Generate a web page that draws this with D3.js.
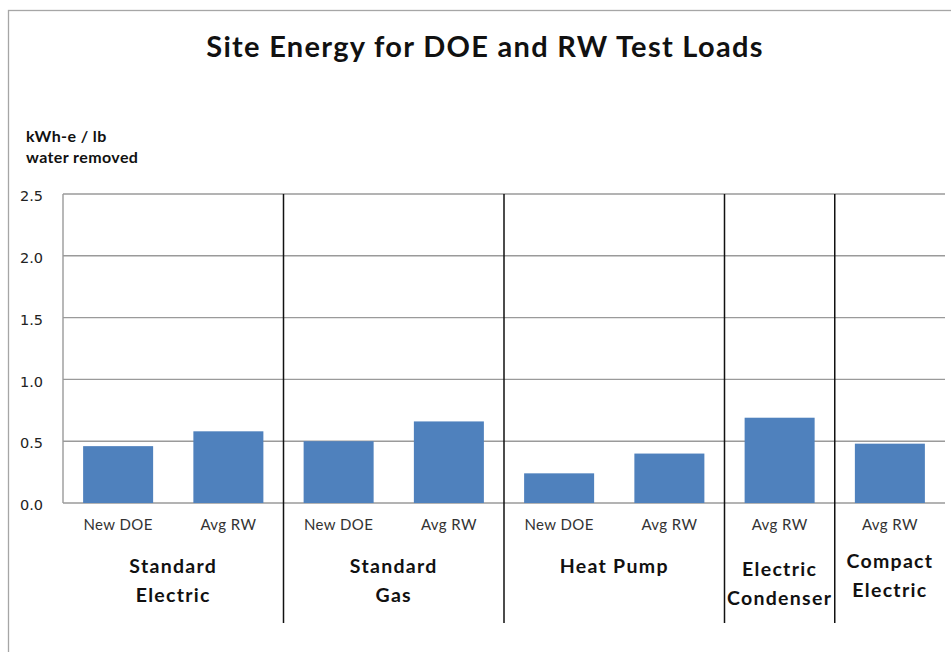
<!DOCTYPE html>
<html>
<head>
<meta charset="utf-8">
<script src="https://cdn.jsdelivr.net/npm/d3@7"></script>
<style>
  body { margin: 0; background: #fff; }
  svg { display: block; }
</style>
</head>
<body>
<svg id="chart" width="951" height="652"></svg>
<script>
// data
const groups = ["Standard Electric", "Standard Gas", "Heat Pump", "Electric Condenser", "Compact Electric"];
const groupLines = [["Standard", "Electric"], ["Standard", "Gas"], ["Heat Pump"], ["Electric", "Condenser"], ["Compact", "Electric"]];
const barGroup = [0, 0, 1, 1, 2, 2, 3, 4];
const barLabels = ["New DOE", "Avg RW", "New DOE", "Avg RW", "New DOE", "Avg RW", "Avg RW", "Avg RW"];
const values = [0.46, 0.58, 0.50, 0.66, 0.24, 0.40, 0.69, 0.48];
const yTicks = [0, 0.5, 1.0, 1.5, 2.0, 2.5];

const svg = d3.select("#chart");
const margin = { left: 63, right: 6, top: 194, bottom: 149 };
const width = 951, height = 652;

const x = d3.scaleBand()
    .domain(d3.range(values.length))
    .range([margin.left, width - margin.right])
    .paddingInner(0.365)
    .paddingOuter(0.1825);

const y = d3.scaleLinear()
    .domain([0, 2.5])
    .range([height - margin.bottom, margin.top]);

// outer frame
svg.append("rect")
    .attr("x", 8.5).attr("y", 10.5)
    .attr("width", 960).attr("height", 660)
    .attr("fill", "none").attr("stroke", "#a6a6a6").attr("stroke-width", 1.3);

// title
svg.append("text")
    .attr("x", 485).attr("y", 57)
    .attr("text-anchor", "middle")
    .style("font-family", "Lato, 'Open Sans', sans-serif")
    .style("font-weight", "bold")
    .style("font-size", "29px")
    .style("letter-spacing", "1.3px")
    .attr("fill", "#111")
    .text("Site Energy for DOE and RW Test Loads");

// y axis title
const yt = svg.append("text")
    .style("font-family", "Lato, 'Open Sans', sans-serif")
    .style("font-weight", "bold")
    .style("font-size", "16px")
    .style("letter-spacing", "0.4px")
    .attr("fill", "#111");
yt.append("tspan").attr("x", 26).attr("y", 142).text("kWh-e / lb");
yt.append("tspan").attr("x", 26).attr("y", 163).text("water removed");

// gridlines
svg.append("g")
  .selectAll("line")
  .data(yTicks)
  .join("line")
    .attr("x1", margin.left).attr("x2", width - margin.right)
    .attr("y1", d => y(d)).attr("y2", d => y(d))
    .attr("stroke", "#9a9a9a").attr("stroke-width", 1.4);

svg.append("line")
    .attr("x1", margin.left).attr("x2", margin.left)
    .attr("y1", y(2.5)).attr("y2", y(0))
    .attr("stroke", "#9a9a9a").attr("stroke-width", 1.4);

// y tick labels
const yAxis = d3.axisLeft(y)
    .tickValues(yTicks)
    .tickFormat(d3.format(".1f"))
    .tickSize(0)
    .tickPadding(20);

svg.append("g")
    .attr("transform", `translate(${margin.left},2)`)
    .call(yAxis)
    .call(g => g.select(".domain").remove())
    .call(g => g.selectAll("text")
        .style("font-family", "'DejaVu Sans', Verdana, sans-serif")
        .style("font-size", "14.5px")
        .attr("fill", "#222"));

// bars
svg.append("g")
  .selectAll("rect")
  .data(values)
  .join("rect")
    .attr("x", (d, i) => x(i))
    .attr("y", d => y(d))
    .attr("width", x.bandwidth())
    .attr("height", d => y(0) - y(d))
    .attr("fill", "#4f81bd");

// bar labels
svg.append("g")
  .selectAll("text")
  .data(barLabels)
  .join("text")
    .attr("x", (d, i) => x(i) + x.bandwidth() / 2)
    .attr("y", 530)
    .attr("text-anchor", "middle")
    .style("font-family", "Lato, 'Open Sans', sans-serif")
    .style("font-size", "15px")
    .style("letter-spacing", "0.4px")
    .attr("fill", "#333")
    .text(d => d);

// group separators
const step = x.step();
const groupStart = groups.map((g, gi) => barGroup.indexOf(gi));
const groupEnd = groups.map((g, gi) => barGroup.lastIndexOf(gi) + 1);
const edge = i => margin.left + x.paddingOuter() * step - x.paddingInner() * step / 2 + i * step;

svg.append("g")
  .selectAll("line")
  .data(groupStart.slice(1))
  .join("line")
    .attr("x1", d => edge(d)).attr("x2", d => edge(d))
    .attr("y1", y(2.5)).attr("y2", 623)
    .attr("stroke", "#111").attr("stroke-width", 1.5);

// group labels
const groupY = [573, 573, 573, 576, 568];
const gl = svg.append("g")
  .selectAll("text")
  .data(groupLines)
  .join("text")
    .attr("text-anchor", "middle")
    .style("font-family", "Lato, 'Open Sans', sans-serif")
    .style("font-weight", "bold")
    .style("font-size", "19.5px")
    .style("letter-spacing", "1.3px")
    .attr("fill", "#111");

gl.each(function(lines, gi) {
  const cx = (edge(groupStart[gi]) + edge(groupEnd[gi])) / 2;
  d3.select(this).selectAll("tspan")
    .data(lines)
    .join("tspan")
      .attr("x", cx)
      .attr("y", (d, k) => groupY[gi] + k * 28.5)
      .text(d => d);
});
</script>
</body>
</html>
